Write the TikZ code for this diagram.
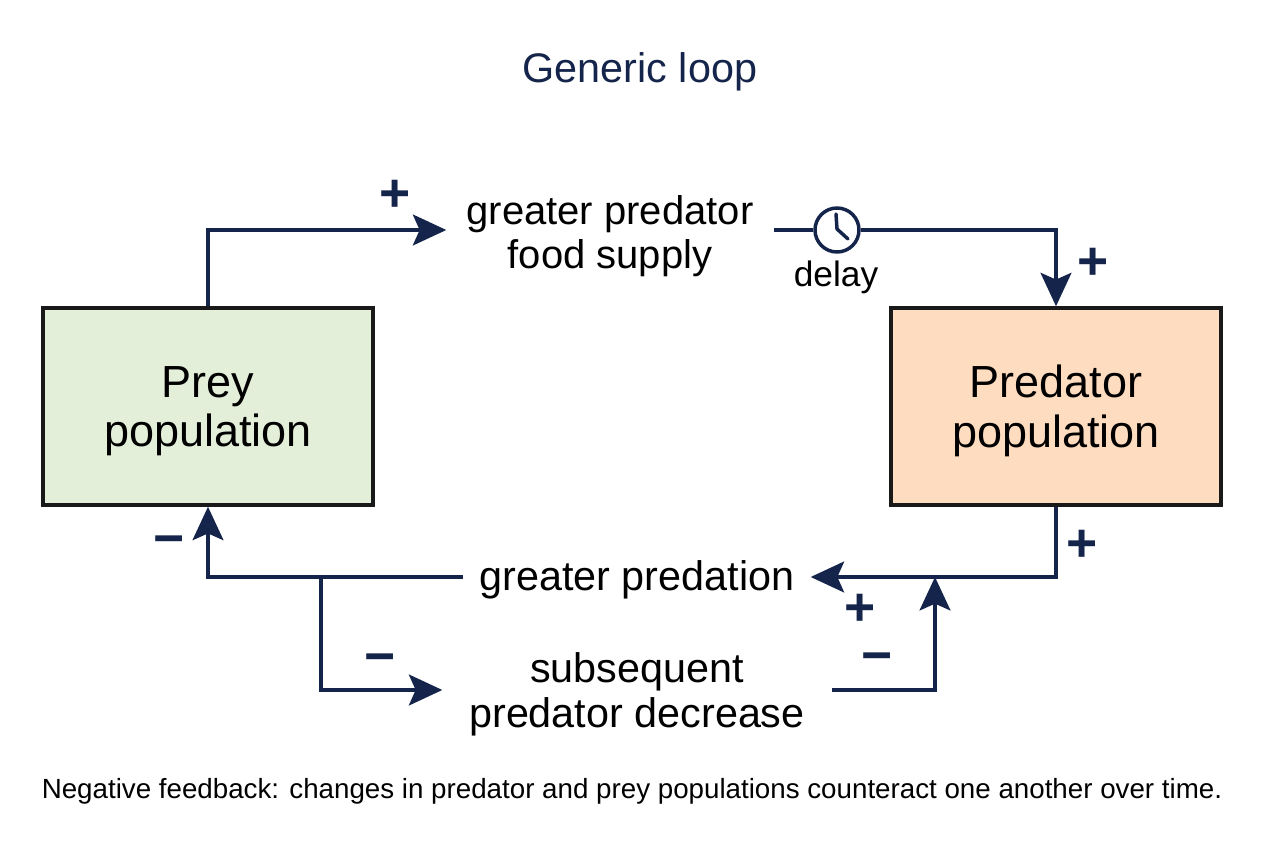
\documentclass[tikz,border=0pt]{standalone}
\usepackage{fontspec}
\setmainfont{Liberation Sans}
\usetikzlibrary{arrows.meta}
\definecolor{navy}{HTML}{14244A}
\definecolor{preyfill}{HTML}{E3EFD9}
\definecolor{predfill}{HTML}{FDDCBF}
\begin{document}
\begin{tikzpicture}[x=0.75pt,y=-0.75pt,
  conn/.style={draw=navy,line width=3.2pt},
  arr/.style={conn,-{Stealth[length=25pt,width=23pt,inset=5pt]}},
  popbox/.style={draw=black!90,line width=2.6pt,minimum width=247.5pt,minimum height=147.75pt,inner sep=0pt},
  boxtext/.style={align=center,font=\fontsize{33.75}{37}\selectfont,inner sep=0pt},
  lbl/.style={align=center,font=\fontsize{30}{32.5}\selectfont,inner sep=0pt},
  sgn/.style={text=navy,font=\fontsize{40}{40}\selectfont\bfseries,inner sep=0pt}]
\useasboundingbox (0,0) rectangle (1264,848);
\fill[white] (0,0) rectangle (1264,848);
% title
\node[text=navy,font=\fontsize{31}{31}\selectfont] (title) at (640,72) {Generic loop};
% boxes
\node[popbox,fill=preyfill] (prey) at (208,406.5) {};
\node[boxtext] (preytext) at (208,411) {Prey\\population};
\node[popbox,fill=predfill] (pred) at (1056,406.5) {};
\node[boxtext] (predtext) at (1056,411) {Predator\\population};
% labels
\node[lbl,inner xsep=15pt] (supply) at (610,236) {greater predator\\food supply};
\node[lbl,inner xsep=12pt,font=\fontsize{31}{33}\selectfont] (predation) at (637,580) {greater predation};
\node[lbl,inner xsep=20pt,font=\fontsize{31}{34}\selectfont] (decrease) at (637,694) {subsequent\\predator decrease};
% clock
\node[draw=navy,line width=2.6pt,circle,minimum size=33pt,inner sep=0pt] (clock) at (837,230) {};
\draw[navy,line width=2.6pt,line cap=round,line join=round] (836,214) -- (837,229) -- (848,239);
\node[font=\fontsize{26.5}{28}\selectfont,inner sep=0pt] (delay) at (836,277) {delay};
% connectors
\draw[arr] (prey.north) |- ([yshift=4.5pt]supply.west);
\draw[conn] ([yshift=4.5pt]supply.east) -- (clock.west);
\draw[arr] (clock.east) -| (pred.north);
\draw[arr] (pred.south) |- ([yshift=2.25pt]predation.east);
\draw[arr] ([yshift=2.25pt]predation.west) -| (prey.south);
\coordinate (branch) at (321,577);
\coordinate (join) at (935,577);
\draw[arr] (branch) |- ([yshift=3pt]decrease.west);
\draw[arr] ([yshift=3pt]decrease.east) -| (join);
% signs
\node[sgn] (s1) at (395,196) {+};
\node[sgn] (s2) at (1093,264) {+};
\node[sgn] (s3) at (1082,546) {+};
\node[sgn] (s4) at (860,610) {+};
\node[sgn] (s5) at (877,663) {−};
\node[sgn] (s6) at (169,546) {−};
\node[sgn] (s7) at (380,664) {−};
% caption
\node[font=\fontsize{20.8}{22}\selectfont,inner sep=0pt] (caption) at (632,791) {Negative feedback: changes in predator and prey populations counteract one another over time.};
\end{tikzpicture}
\end{document}
